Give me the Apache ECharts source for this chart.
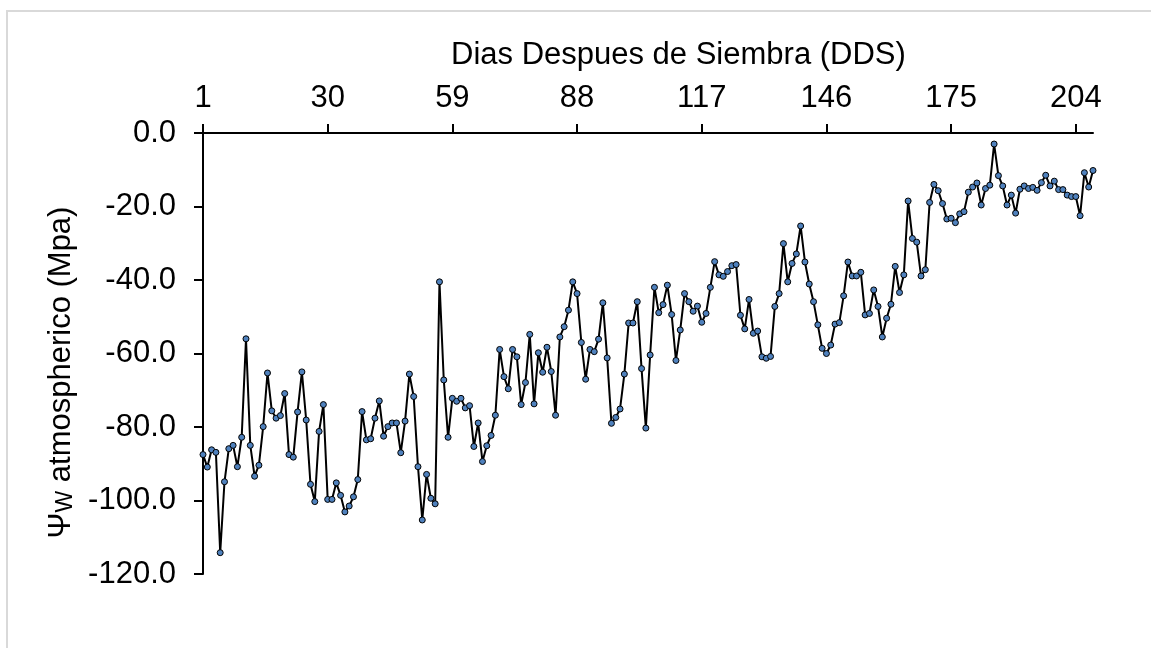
<!DOCTYPE html>
<html>
<head>
<meta charset="utf-8">
<script src="https://cdn.jsdelivr.net/npm/echarts@6/dist/echarts.min.js"></script>
<style>
  html, body { margin: 0; padding: 0; background: #fff; }
  #main { width: 1151px; height: 648px; }
</style>
</head>
<body>
<div id="main"></div>
<script>
    // datos
    var dias = [];
    for (var d = 1; d <= 208; d++) dias.push(String(d));

    var psiW = [
        -87.5, -90.9, -86.2, -86.9, -114.2, -94.9, -85.9, -85.0, -90.8, -82.8,
        -56.0, -85.0, -93.4, -90.4, -79.9, -65.3, -75.6, -77.6, -76.9, -70.9,
        -87.5, -88.2, -75.9, -65.0, -78.1, -95.6, -100.3, -81.2, -73.9, -99.7,
        -99.7, -95.2, -98.6, -103.1, -101.5, -99.0, -94.3, -75.8, -83.5, -83.2,
        -77.6, -72.9, -82.5, -79.9, -78.9, -78.9, -87.0, -78.4, -65.6, -71.7,
        -90.8, -105.3, -92.9, -99.4, -100.9, -40.5, -67.2, -82.8, -72.2, -73.0,
        -72.2, -74.8, -74.2, -85.3, -78.9, -89.4, -85.1, -82.3, -76.8, -58.9,
        -66.3, -69.6, -58.9, -60.9, -73.9, -67.9, -54.8, -73.7, -59.8, -65.1,
        -58.3, -64.9, -76.8, -55.5, -52.7, -48.2, -40.5, -43.7, -57.0, -67.0,
        -58.9, -59.5, -56.1, -46.2, -61.2, -79.0, -77.4, -75.1, -65.6, -51.7,
        -51.7, -45.9, -64.1, -80.3, -60.4, -42.0, -48.9, -46.7, -41.4, -49.4,
        -61.9, -53.6, -43.7, -45.9, -48.5, -47.1, -51.5, -49.1, -42.0, -35.0,
        -38.6, -39.0, -37.7, -36.1, -35.8, -49.6, -53.3, -45.3, -54.5, -53.9,
        -60.9, -61.3, -60.8, -47.2, -43.7, -30.1, -40.5, -35.5, -32.9, -25.3,
        -35.1, -41.1, -45.9, -52.2, -58.6, -60.0, -57.7, -52.0, -51.6, -44.3,
        -35.1, -38.9, -38.9, -37.9, -49.5, -49.1, -42.7, -47.2, -55.5, -50.4,
        -46.6, -36.3, -43.4, -38.6, -18.5, -28.7, -29.7, -38.9, -37.2, -18.9,
        -14.0, -15.7, -19.2, -23.4, -23.2, -24.4, -22.0, -21.4, -16.1, -14.7,
        -13.6, -19.6, -15.1, -14.2, -3.0, -11.6, -14.4, -19.6, -16.9, -21.8,
        -15.3, -14.4, -15.1, -14.8, -15.6, -13.5, -11.5, -14.4, -13.1, -15.4,
        -15.4, -16.9, -17.3, -17.3, -22.5, -10.8, -14.7, -10.2
    ];

    var tituloX = 'Dias Despues de Siembra (DDS)';
    var fuente = '"Liberation Sans", Arial, sans-serif';

    var myChart = echarts.init(document.getElementById('main'));

option = {
    backgroundColor: '#ffffff',
    animation: false,
    textStyle: { fontFamily: fuente },
    title: {
        text: tituloX,
        left: 446,
        top: 35,
        textStyle: { fontSize: 31, fontWeight: 'normal', color: '#000', fontFamily: fuente }
    },
    graphic: [{
        type: 'rect',
        shape: { x: 7, y: 11, width: 1300, height: 800 },
        style: { fill: 'none', stroke: '#d9d9d9', lineWidth: 2 },
        silent: true
    }],
    grid: { left: 203, top: 133, right: 58, bottom: 74 },
    xAxis: {
        type: 'category',
        position: 'top',
        data: dias,
        boundaryGap: false,
        axisLine: { lineStyle: { color: '#000', width: 2 } },
        axisTick: { interval: 28, length: 9, lineStyle: { color: '#000', width: 2 } },
        axisLabel: { interval: 28, fontSize: 31, color: '#000', margin: 19 },
        splitLine: { show: false }
    },
    yAxis: {
        type: 'value',
        min: -120,
        max: 0,
        interval: 20,
        name: '{a|Ψ}{b|W}{a| atmospherico (Mpa)}',
        nameLocation: 'middle',
        nameGap: 112,
        nameRotate: 90,
        nameTextStyle: {
            color: '#000',
            fontSize: 31,
            padding: [0, 38, 0, 0],
            rich: {
                a: { fontSize: 31, color: '#000', fontFamily: fuente },
                b: { fontSize: 23, color: '#000', fontFamily: fuente, verticalAlign: 'bottom', padding: [8, 0, 0, 0] }
            }
        },
        axisLine: { show: true, lineStyle: { color: '#000', width: 2 } },
        axisTick: { show: true, length: 9, lineStyle: { color: '#000', width: 2 } },
        axisLabel: {
            fontSize: 31,
            color: '#000',
            margin: 27,
            formatter: function (v) { return v.toFixed(1); }
        },
        splitLine: { show: false }
    },
    series: [{
        type: 'line',
        data: psiW,
        symbol: 'circle',
        symbolSize: 6,
        showSymbol: true,
        showAllSymbol: true,
        lineStyle: { color: '#000', width: 2 },
        itemStyle: { color: '#4f81bd', borderColor: '#000', borderWidth: 1 }
    }]
};
    myChart.setOption(option);
</script>
</body>
</html>
